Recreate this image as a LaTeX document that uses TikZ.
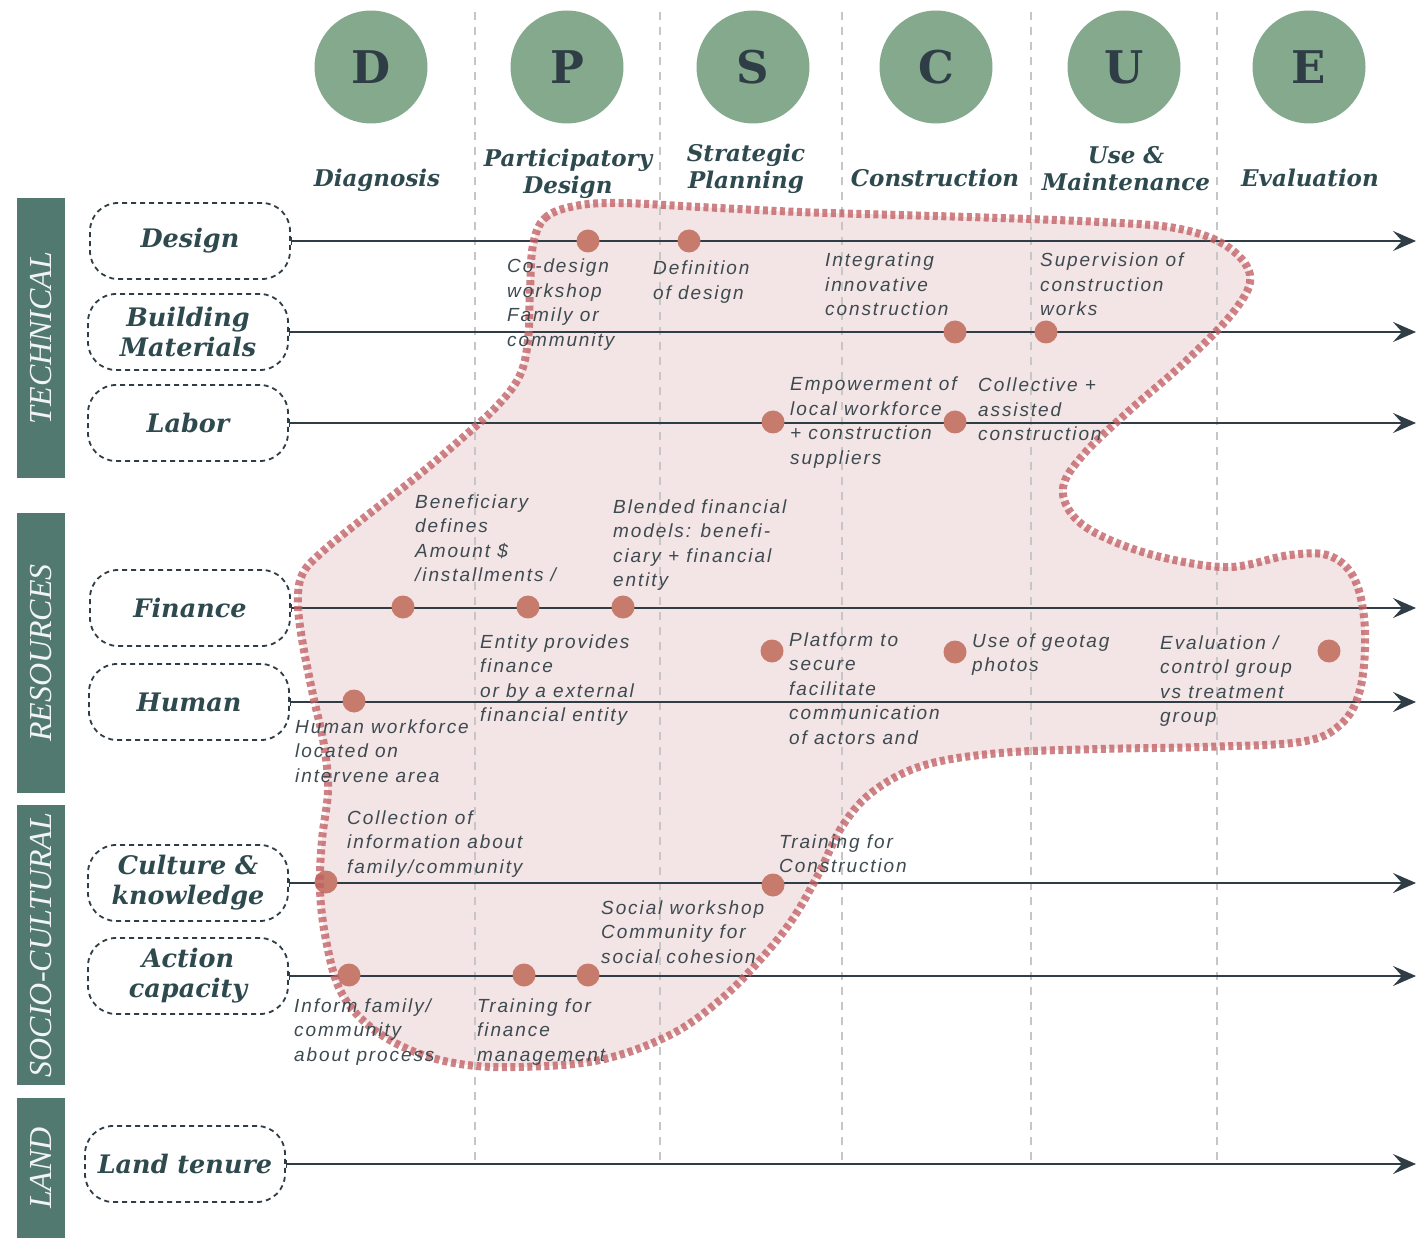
\documentclass[tikz,border=0pt]{standalone}
\usepackage{fontspec}
\usetikzlibrary{arrows.meta}
\newfontfamily\dvserif{DejaVu Serif}
\newfontfamily\notefamily[LetterSpace=10]{Liberation Sans}
\newfontfamily\sidefamily{Liberation Serif}
\definecolor{ink}{HTML}{2F3E46}
\definecolor{head}{HTML}{2E4A4F}
\definecolor{notec}{HTML}{3D4A50}
\definecolor{sage}{HTML}{84A98C}
\definecolor{band}{HTML}{52796F}
\definecolor{dotc}{HTML}{C67B6C}
\definecolor{blobfill}{HTML}{F3E4E5}
\definecolor{blobedge}{HTML}{C25F63}
\definecolor{gridc}{HTML}{C6C6C6}
\newcommand{\notelines}[1]{\begin{tabular}[t]{@{}l@{}}#1\end{tabular}}
\newcommand{\phaselines}[1]{\begin{tabular}[t]{@{}c@{}}#1\end{tabular}}
\begin{document}
\begin{tikzpicture}[x=1pt,y=-1pt,
  phasecircle/.style={circle, fill=sage, minimum size=113pt, inner sep=0pt,
    text=ink, font=\dvserif\bfseries\fontsize{45}{48}\selectfont},
  phasename/.style={anchor=base, inner sep=0pt, text=head,
    font=\dvserif\bfseries\itshape\fontsize{23}{27}\selectfont},
  bandbox/.style={fill=band, minimum width=48pt, inner sep=0pt},
  bandtext/.style={rotate=90, text=white!92!band, inner sep=0pt,
    font=\sidefamily\itshape\fontsize{32}{36}\selectfont},
  catbox/.style={draw=ink, line width=1.8pt, dash pattern=on 5pt off 4pt,
    rounded corners=28pt, minimum width=200pt, minimum height=76pt,
    inner sep=0pt, align=center, text=head,
    font=\dvserif\bfseries\itshape\fontsize{25.5}{30}\selectfont},
  flow/.style={draw=ink, line width=2.4pt,
    {Bar[width=8pt,line width=1.2pt]}-{Stealth[length=23pt,width=20pt,inset=9pt]}},
  gridline/.style={draw=gridc, line width=2pt, dash pattern=on 8pt off 7pt},
  dot/.style={circle, fill=dotc, minimum size=23pt, inner sep=0pt},
  note/.style={anchor=base west, inner sep=0pt, text=notec,
    font=\notefamily\itshape\fontsize{19}{24.5}\selectfont}
]
\useasboundingbox (0,0) rectangle (1417,1238);

% outline of the highlighted zone
\def\zone{plot[smooth cycle, tension=0.6] coordinates {
  (533,245) (545,218) (575,206) (620,203) (700,207) (800,212) (900,215)
  (1000,218) (1100,222) (1175,228) (1225,245) (1250,275) (1235,310)
  (1185,362) (1130,410) (1083,455) (1063,488) (1075,518) (1110,540)
  (1165,558) (1230,567) (1290,555) (1330,556) (1355,580) (1365,630)
  (1360,690) (1340,725) (1300,742) (1200,747) (1100,749) (1000,753)
  (925,765) (875,790) (843,825) (818,875) (792,920) (760,960) (720,1000)
  (670,1035) (600,1060) (520,1067) (460,1064) (410,1050) (368,1025)
  (340,990) (326,940) (320,890) (322,840) (328,790) (324,745) (313,695)
  (303,645) (298,605) (302,575) (322,552) (365,517) (415,478) (460,440)
  (498,405) (520,375) (528,340) (530,290)}}

% highlighted zone: fill
\path[fill=blobfill] \zone;

% phase separators
\foreach \gx/\gn in {475/a,660/b,842/c,1031/d,1217/e}{
  \coordinate (g\gn-top) at (\gx,12);
  \coordinate (g\gn-bot) at (\gx,1160);
  \draw[gridline] (g\gn-top) -- (g\gn-bot);
}

% phase circles
\node[phasecircle] (pD) at (371,67) {D};
\node[phasecircle] (pP) at (567,67) {P};
\node[phasecircle] (pS) at (753,67) {S};
\node[phasecircle] (pC) at (936,67) {C};
\node[phasecircle] (pU) at (1124,67) {U};
\node[phasecircle] (pE) at (1309,67) {E};

% phase names
\node[phasename] (nD) at (377,187) {\phaselines{Diagnosis}};
\node[phasename] (nP) at (568,167) {\phaselines{Participatory\\Design}};
\node[phasename] (nS) at (746,162) {\phaselines{Strategic\\Planning}};
\node[phasename] (nC) at (935,187) {\phaselines{Construction}};
\node[phasename] (nU) at (1126,164) {\phaselines{Use \&\\Maintenance}};
\node[phasename] (nE) at (1310,187) {\phaselines{Evaluation}};

% dimension bands
\node[bandbox, minimum height=280pt] (bT) at (41,338) {};
\node[bandtext] (tT) at (41,338) {TECHNICAL};
\node[bandbox, minimum height=280pt] (bR) at (41,653) {};
\node[bandtext] (tR) at (41,653) {RESOURCES};
\node[bandbox, minimum height=280pt] (bS) at (41,945) {};
\node[bandtext] (tS) at (41,945) {SOCIO-CULTURAL};
\node[bandbox, minimum height=140pt] (bL) at (41,1168) {};
\node[bandtext] (tL) at (41,1168) {LAND};

% categories
\node[catbox] (design) at (190,241) {Design};
\node[catbox] (bmat) at (188,332) {Building\\Materials};
\node[catbox] (labor) at (188,423) {Labor};
\node[catbox] (finance) at (190,608) {Finance};
\node[catbox] (human) at (189,702) {Human};
\node[catbox] (culture) at (188,883) {Culture \&\\knowledge};
\node[catbox] (action) at (188,976) {Action\\capacity};
\node[catbox] (land) at (185,1164) {Land tenure};

% timelines
\foreach \c/\yy in {design/241,bmat/332,labor/423,finance/608,human/702,culture/883,action/976,land/1164}{
  \coordinate (\c-end) at (1416,\yy);
  \draw[flow] (\c.east) -- (\c-end);
}

% milestones
\node[dot] (m1) at (588,241) {};
\node[dot] (m2) at (689,241) {};
\node[dot] (m3) at (955,332) {};
\node[dot] (m4) at (1046,332) {};
\node[dot] (m5) at (773,422) {};
\node[dot] (m6) at (955,422) {};
\node[dot] (m7) at (403,607) {};
\node[dot] (m8) at (528,607) {};
\node[dot] (m9) at (623,607) {};
\node[dot] (m10) at (772,651) {};
\node[dot] (m11) at (955,652) {};
\node[dot] (m12) at (1329,651) {};
\node[dot] (m13) at (354,701) {};
\node[dot] (m14) at (326,882) {};
\node[dot] (m15) at (773,885) {};
\node[dot] (m16) at (349,975) {};
\node[dot] (m17) at (524,975) {};
\node[dot] (m18) at (588,975) {};

% highlighted zone: outline
\draw[blobedge, opacity=0.78, line width=8pt, dash pattern=on 5pt off 3.5pt] \zone;

% milestone notes
\node[note] (t1) at (507,273) {\notelines{Co-design\\workshop\\Family or\\community}};
\node[note] (t2) at (653,275) {\notelines{Definition\\of design}};
\node[note] (t3) at (825,267) {\notelines{Integrating\\innovative\\construction}};
\node[note] (t4) at (1040,267) {\notelines{Supervision of\\construction\\works}};
\node[note] (t5) at (790,391) {\notelines{Empowerment of\\local workforce\\+ construction\\suppliers}};
\node[note] (t6) at (978,392) {\notelines{Collective +\\assisted\\construction}};
\node[note] (t7) at (415,508) {\notelines{Beneficiary\\defines\\Amount \$\\/installments /}};
\node[note] (t8) at (613,513) {\notelines{Blended financial\\models: benefi-\\ciary + financial\\entity}};
\node[note] (t9) at (480,648) {\notelines{Entity provides\\finance\\or by a external\\financial entity}};
\node[note] (t10) at (789,646) {\notelines{Platform to\\secure\\facilitate\\communication\\of actors and}};
\node[note] (t11) at (972,647) {\notelines{Use of geotag\\photos}};
\node[note] (t12) at (1160,649) {\notelines{Evaluation /\\control group\\vs treatment\\group}};
\node[note] (t13) at (295,733) {\notelines{Human workforce\\located on\\intervene area}};
\node[note] (t14) at (347,824) {\notelines{Collection of\\information about\\family/community}};
\node[note] (t15) at (779,848) {\notelines{Training for\\Construction}};
\node[note] (t16) at (601,914) {\notelines{Social workshop\\Community for\\social cohesion}};
\node[note] (t17) at (294,1012) {\notelines{Inform family/\\community\\about process}};
\node[note] (t18) at (477,1012) {\notelines{Training for\\finance\\management}};
\end{tikzpicture}
\end{document}
